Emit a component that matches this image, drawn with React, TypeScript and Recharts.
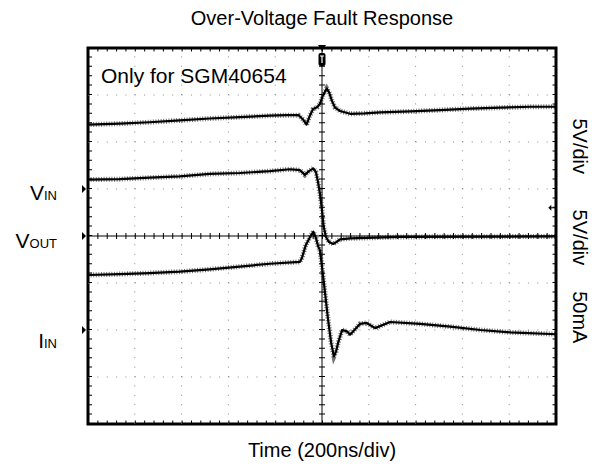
import { LineChart, Line, XAxis, YAxis, ReferenceLine, ReferenceArea, ReferenceDot } from "recharts";

const FONT = "'Liberation Sans', Arial, sans-serif";

const TITLE = "Over-Voltage Fault Response";
const X_LABEL = "Time (200ns/div)";
const NOTE = "Only for SGM40654";

// time in ns (200ns/div, trigger at 0), level in divisions from the centre line
const vinTrace: [number, number][] = [
  [-1000, 2.37], [-865, 2.39], [-737, 2.42], [-608, 2.46], [-480, 2.5], [-351, 2.53],
  [-223, 2.56], [-150, 2.57], [-100, 2.57], [-81, 2.48], [-66, 2.37], [-51, 2.57],
  [-38, 2.7], [-21, 2.74], [-9, 2.81], [4, 2.99], [20, 3.14], [30, 3.06], [43, 2.87],
  [56, 2.73], [77, 2.66], [120, 2.6], [184, 2.61], [248, 2.63], [377, 2.65],
  [505, 2.68], [634, 2.71], [762, 2.73], [891, 2.75], [1000, 2.75],
];

const voutTrace: [number, number][] = [
  [-1000, 1.2], [-865, 1.21], [-737, 1.24], [-608, 1.27], [-480, 1.32], [-351, 1.34],
  [-223, 1.38], [-137, 1.42], [-94, 1.4], [-73, 1.3], [-56, 1.38], [-37, 1.44],
  [-26, 1.36], [-17, 1.15], [-9, 0.91], [0, 0.55], [7, 0.2], [17, -0.02], [30, -0.13],
  [48, -0.17], [64, -0.12], [77, -0.07], [120, -0.05], [334, -0.02], [1000, -0.01],
];

const iinTrace: [number, number][] = [
  [-1000, -0.83], [-865, -0.81], [-737, -0.79], [-608, -0.76], [-480, -0.71], [-351, -0.65],
  [-223, -0.59], [-94, -0.55], [-86, -0.47], [-69, -0.19], [-51, -0.02], [-37, 0.09],
  [-26, -0.04], [-16, -0.23], [-9, -0.3], [0, -0.65], [13, -1.21], [26, -1.78],
  [39, -2.27], [51, -2.56], [60, -2.46], [69, -2.27], [86, -2.0], [107, -2.03],
  [120, -2.1], [162, -1.87], [191, -1.85], [227, -1.96], [291, -1.83], [420, -1.87],
  [548, -1.93], [677, -2.0], [805, -2.05], [1000, -2.09],
];

// scope graticule: 10 x 8 divisions
const gridTimes = [-800, -600, -400, -200, 200, 400, 600, 800];
const gridLevels = [-3, -2, -1, 1, 2, 3];

// channel ground markers on the left
const channelLevels = [1, 0, -2];
const channelMain = ["V", "V", "I"];
const channelSub = ["IN", "OUT", "IN"];

// scale labels on the right
const scaleLevels = [1.91, -0.03, -1.73];
const scaleText = ["5V/div", "5V/div", "50mA"];

const triggerLevel = 0.6;

const toData = (tr: [number, number][]) => tr.map(([t, v]) => ({ t, v }));

const labelDy = [11, 12, 18];

// eslint-disable-next-line @typescript-eslint/no-explicit-any
function ChannelTick({ x, y, payload }: any) {
  const i = channelLevels.indexOf(payload.value);
  if (i < 0) return null;
  return (
    <g>
      <path d={`M${x - 6},${y - 4} L${x - 2},${y} L${x - 6},${y + 4} Z`} fill="#000" />
      <text x={x - 31} y={y + labelDy[i]} textAnchor="end" fontSize={21} fontFamily={FONT} fill="#000">
        {channelMain[i]}
        <tspan fontSize={13}>{channelSub[i]}</tspan>
      </text>
    </g>
  );
}

function scaleLabel(text: string) {
  // eslint-disable-next-line @typescript-eslint/no-explicit-any
  return ({ cx, cy }: any) => {
    const x = cx + 24;
    return (
      <text x={x} y={cy} transform={`rotate(90, ${x}, ${cy})`} textAnchor="middle"
        dominantBaseline="central" fontSize={20} fontFamily={FONT} fill="#000">
        {text}
      </text>
    );
  };
}

// eslint-disable-next-line @typescript-eslint/no-explicit-any
function TriggerMark({ cx, cy }: any) {
  return (
    <g>
      <path d={`M${cx - 4},${cy - 3} L${cx + 4},${cy - 3} L${cx},${cy + 3} Z`} fill="#000" />
      <rect x={cx - 3.5} y={cy + 5} width={7} height={13} rx={2} fill="#000" />
      <path d={`M${cx - 2},${cy + 8} L${cx + 2},${cy + 8} M${cx},${cy + 8} L${cx},${cy + 15}`} stroke="#fff" strokeWidth={1.2} />
    </g>
  );
}

// eslint-disable-next-line @typescript-eslint/no-explicit-any
function LevelArrow({ cx, cy }: any) {
  return (
    <g>
      <path d={`M${cx - 1},${cy} L${cx + 4},${cy}`} stroke="#000" strokeWidth={1} />
      <path d={`M${cx - 3},${cy} L${cx},${cy - 3} L${cx},${cy + 3} Z`} fill="#000" />
    </g>
  );
}

const grid = { stroke: "#8a8a8a", strokeWidth: 1 };
const traces = [vinTrace, voutTrace, iinTrace];

export default function App() {
  return (
    <div style={{ position: "absolute", left: 0, top: 0, width: 600, height: 469, background: "#fff", fontFamily: FONT }}>
      <div style={{ position: "absolute", left: 0, top: 8, width: 644, textAlign: "center", fontSize: 20, lineHeight: "20px" }}>
        {TITLE}
      </div>
      <div style={{ position: "absolute", left: 0, top: 440, width: 644, textAlign: "center", fontSize: 20, lineHeight: "20px" }}>
        {X_LABEL}
      </div>
      <LineChart width={600} height={469} margin={{ top: 48, right: 44, bottom: 45, left: 0 }}>
        <XAxis dataKey="t" type="number" domain={[-1000, 1000]} allowDataOverflow hide />
        <YAxis type="number" domain={[-4, 4]} allowDataOverflow width={88} ticks={channelLevels}
          interval={0} axisLine={false} tickLine={false} tickSize={0} tickMargin={0} tick={<ChannelTick />} />

        {/* dotted graticule */}
        {gridTimes.map((t) => (
          <ReferenceLine key={`gx${t}`} x={t} {...grid} strokeDasharray="1 8.4" />
        ))}
        {gridLevels.map((l) => (
          <ReferenceLine key={`gy${l}`} y={l} {...grid} strokeDasharray="1 8.36" />
        ))}

        {/* centre axes with minor ticks */}
        <ReferenceLine x={0} stroke="#000" strokeWidth={1} />
        <ReferenceLine y={0} stroke="#000" strokeWidth={1} />
        <ReferenceLine x={0} stroke="#000" strokeWidth={6} strokeDasharray="1 8.4" />
        <ReferenceLine y={0} stroke="#000" strokeWidth={6} strokeDasharray="1 8.36" />

        {/* minor ticks along the frame */}
        <ReferenceLine x={-1000} stroke="#000" strokeWidth={8} strokeDasharray="1 8.4" ifOverflow="hidden" />
        <ReferenceLine x={1000} stroke="#000" strokeWidth={7} strokeDasharray="1 8.4" ifOverflow="hidden" />
        <ReferenceLine y={-4} stroke="#000" strokeWidth={7} strokeDasharray="1 8.36" ifOverflow="hidden" />
        <ReferenceLine y={4} stroke="#000" strokeWidth={7} strokeDasharray="1 8.36" ifOverflow="hidden" />

        {/* fuzzy band for the scope noise, then the trace core */}
        {traces.map((tr, i) => (
          <Line key={`n${i}`} data={toData(tr)} dataKey="v" type="linear" stroke="#000" strokeWidth={5}
            strokeOpacity={0.55} strokeDasharray="1 1.6" dot={false} isAnimationActive={false} />
        ))}
        {traces.map((tr, i) => (
          <Line key={`c${i}`} data={toData(tr)} dataKey="v" type="linear" stroke="#000" strokeWidth={2.2}
            dot={false} isAnimationActive={false} strokeLinejoin="round" />
        ))}

        <ReferenceArea x1={-1000} x2={1000} y1={-4} y2={4} fill="none" stroke="#000" strokeWidth={3} ifOverflow="visible" />
        <ReferenceDot x={0} y={4} ifOverflow="visible" shape={<TriggerMark />} />
        <ReferenceDot x={980} y={triggerLevel} ifOverflow="visible" shape={<LevelArrow />} />
        {scaleLevels.map((l, i) => (
          <ReferenceDot key={`s${i}`} x={1000} y={l} ifOverflow="visible" shape={scaleLabel(scaleText[i])} />
        ))}
      </LineChart>
      <div style={{ position: "absolute", left: 101, top: 65, fontSize: 21, lineHeight: "21px", whiteSpace: "nowrap" }}>
        {NOTE}
      </div>
    </div>
  );
}
